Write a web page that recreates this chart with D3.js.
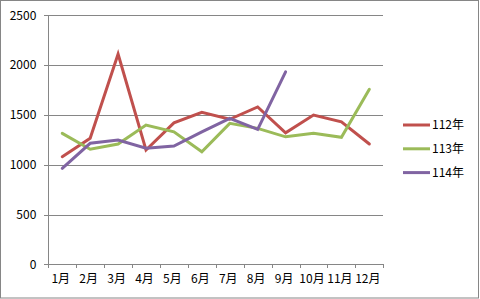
<!DOCTYPE html>
<html>
<head>
<meta charset="utf-8">
<script src="https://cdn.jsdelivr.net/npm/d3@7"></script>
<style>
html,body{margin:0;padding:0;background:#fff;}
svg{display:block;}
text{font-family:"Noto Sans CJK TC","Noto Sans",sans-serif;font-size:12px;fill:#000;}
</style>
</head>
<body>
<svg id="chart" width="480" height="299"></svg>
<script>
const months = ["1月","2月","3月","4月","5月","6月","7月","8月","9月","10月","11月","12月"];
const yTicks = [0,500,1000,1500,2000,2500];
const seriesNames = ["112年","113年","114年"];
const seriesColors = ["#C0504D","#9BBB59","#8064A2"];
const s112 = [1080,1265,2110,1148,1420,1525,1456,1580,1320,1498,1430,1208];
const s113 = [1315,1155,1208,1398,1330,1130,1415,1365,1280,1315,1275,1757];
const s114 = [964,1215,1248,1165,1188,1330,1466,1355,1932];
const seriesValues = [s112,s113,s114];

const svg = d3.select("#chart");
const L = 48.3, R = 383.3, T = 15.3, B = 264.3;

svg.append("rect").attr("x",0.5).attr("y",0.5).attr("width",478).attr("height",297.5)
  .attr("fill","#fff").attr("stroke","#868686").attr("stroke-width",1);

const x = d3.scaleBand().domain(months).range([L,R]).padding(0);
const xb = d3.scaleLinear().domain([0,months.length]).range([L,R]);
const y = d3.scaleLinear().domain([0,2500]).range([B,T]);

// gridlines
svg.append("g").attr("transform",`translate(${L},0)`)
  .call(d3.axisLeft(y).tickValues(yTicks.slice(1)).tickSize(-(R-L)).tickFormat(""))
  .call(g=>g.select(".domain").remove())
  .call(g=>g.selectAll("line").attr("stroke","#868686").attr("shape-rendering","crispEdges"));

// y axis
svg.append("g").attr("transform",`translate(${L},0)`)
  .call(d3.axisLeft(y).tickValues(yTicks).tickSize(4).tickPadding(8).tickSizeOuter(0).tickFormat(d3.format("d")))
  .call(g=>g.select(".domain").attr("stroke","#868686").attr("shape-rendering","crispEdges"))
  .call(g=>g.selectAll("line").attr("stroke","#868686").attr("shape-rendering","crispEdges"))
  .call(g=>g.selectAll("text").style("font-size","12px").attr("fill","#000"));

// x axis ticks at boundaries
svg.append("g").attr("transform",`translate(0,${B})`)
  .call(d3.axisBottom(xb).tickValues(d3.range(months.length+1)).tickSize(4).tickFormat("").tickSizeOuter(0))
  .call(g=>g.select(".domain").attr("stroke","#868686").attr("shape-rendering","crispEdges"))
  .call(g=>g.selectAll("line").attr("stroke","#868686").attr("shape-rendering","crispEdges"));

// x labels
svg.append("g").attr("transform",`translate(0,${B})`)
  .call(d3.axisBottom(x).tickSize(0).tickPadding(10))
  .call(g=>g.select(".domain").remove())
  .call(g=>g.selectAll("text").style("font-size","12px").attr("fill","#000").attr("dx","-1.5"));

const line = d3.line().x((d,i)=>x(months[i])+x.bandwidth()/2).y(d=>y(d));

seriesValues.forEach((vals,k)=>{
  svg.append("path").datum(vals).attr("d",line)
    .attr("fill","none").attr("stroke",seriesColors[k]).attr("stroke-width",3)
    .attr("stroke-linejoin","miter").attr("stroke-miterlimit",10).attr("stroke-linecap","round");
});

// legend
const leg = svg.append("g");
seriesNames.forEach((n,k)=>{
  const ly = 125 + k*23.8;
  leg.append("line").attr("x1",403).attr("x2",430).attr("y1",ly).attr("y2",ly)
    .attr("stroke",seriesColors[k]).attr("stroke-width",3);
  leg.append("text").attr("x",432).attr("y",ly).attr("dy","0.35em").text(n);
});
</script>
</body>
</html>
